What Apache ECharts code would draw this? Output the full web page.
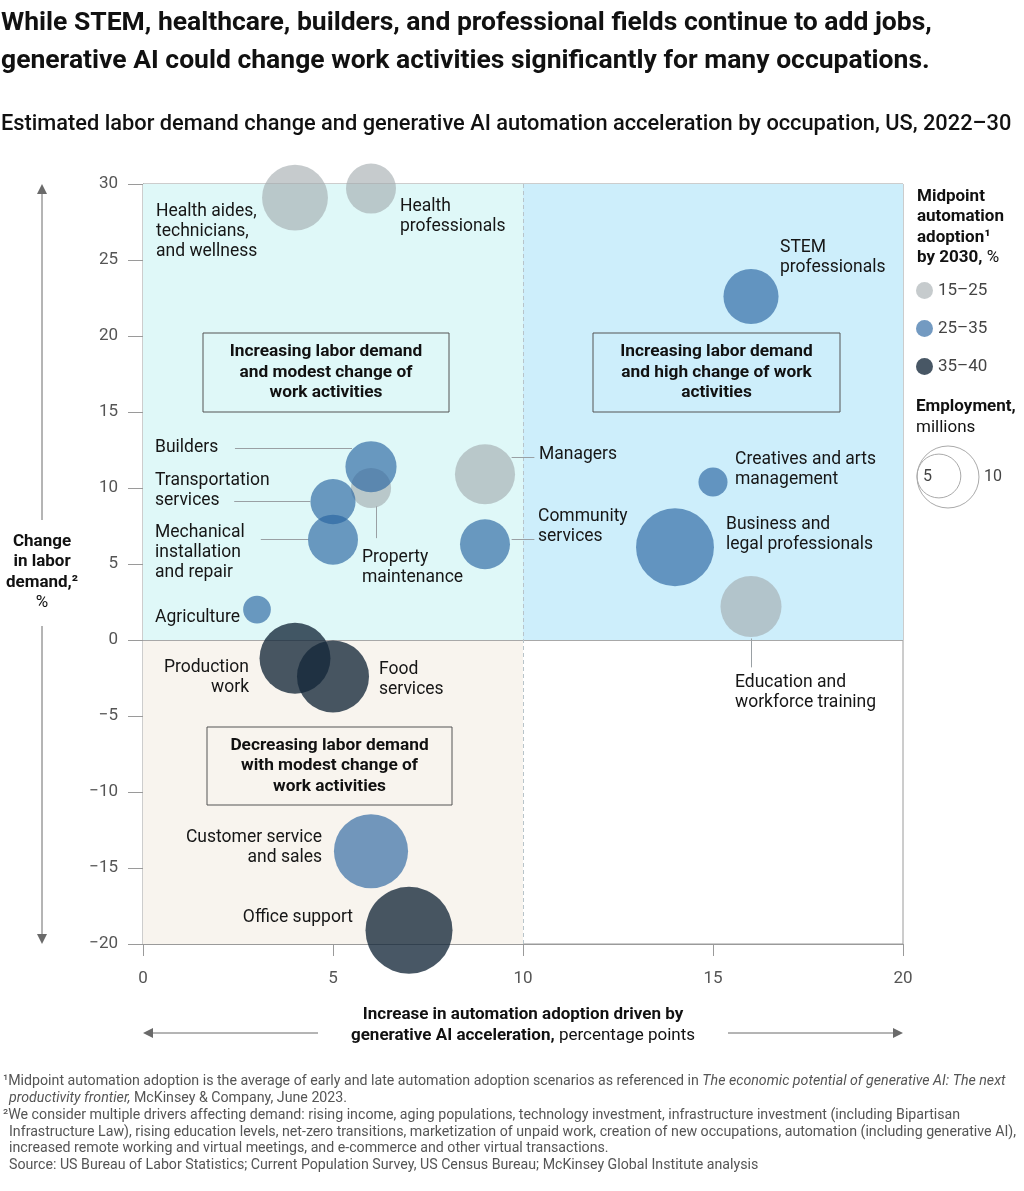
<!DOCTYPE html>
<html>
<head>
<meta charset="utf-8">
<script src="https://cdn.jsdelivr.net/npm/echarts@6/dist/echarts.min.js"></script>
<style>
  html, body { margin: 0; padding: 0; background: #fff; }
  #chart { width: 1024px; height: 1191px; }
</style>
</head>
<body>
<div id="chart"></div>
<script>
// --- data ---
const occupations = [
  'Health aides,\ntechnicians,\nand wellness', 'Health\nprofessionals', 'STEM\nprofessionals',
  'Builders', 'Property\nmaintenance', 'Transportation\nservices', 'Mechanical\ninstallation\nand repair',
  'Managers', 'Community\nservices', 'Creatives and arts\nmanagement', 'Business and\nlegal professionals',
  'Agriculture', 'Education and\nworkforce training', 'Production\nwork', 'Food\nservices',
  'Customer service\nand sales', 'Office support'
];
const automationIncrease = [4.0, 6.0, 16.0, 6.0, 6.0, 5.0, 5.0, 9.0, 9.0, 15.0, 14.0, 3.0, 16.0, 4.0, 5.0, 6.0, 7.0];
const demandChange = [29.1, 29.7, 22.6, 11.4, 10.0, 9.1, 6.6, 10.9, 6.3, 10.4, 6.1, 2.0, 2.2, -1.2, -2.4, -13.9, -19.1];
const employment = [11.3, 6.5, 7.9, 6.8, 4.2, 5.3, 6.5, 9.4, 6.5, 2.2, 15.8, 2.0, 9.7, 13.1, 13.5, 14.3, 19.7];
const adoptionGroup = ['15–25', '15–25', '25–35', '25–35', '15–25', '25–35', '25–35', '15–25', '25–35',
  '25–35', '25–35', '25–35', '15–25', '35–40', '35–40', '25–35', '35–40'];
const adoptionBands = ['15–25', '25–35', '35–40'];
const employmentKey = [5, 10];

// --- layout / styling (not data) ---
const FONT = 'Roboto, "Liberation Sans", sans-serif';
const bandColors = {
  '15–25': 'rgba(160,168,172,0.6)',
  '25–35': 'rgba(40,100,160,0.65)',
  '35–40': 'rgba(20,40,58,0.78)'
};
// label offset from bubble centre in px: [dx, dy, align]
const labelPlacement = [
  [-139, 4, 'left'], [29, 8, 'left'], [29, -59, 'left'],
  [-216, -29, 'left'], [-9, 60, 'left'], [-178, -31, 'left'], [-178, -17, 'left'],
  [54, -30, 'left'], [53, -38, 'left'], [22, -32, 'left'], [51, -33, 'left'],
  [-17, -2, 'right'], [-16, 66, 'left'], [-46, -1, 'right'], [46, -17, 'left'],
  [-49, -24, 'right'], [-56, -23, 'right']
];
// leader lines, in data coordinates
const leaderLines = [
  [[2.42, 12.6], [5.5, 12.6]],
  [[2.4, 9.1], [4.4, 9.1]],
  [[3.1, 6.6], [4.35, 6.6]],
  [[6.13, 8.8], [6.13, 6.7]],
  [[9.7, 12.0], [10.3, 12.0]],
  [[9.7, 6.6], [10.3, 6.6]],
  [[16.0, 0.1], [16.0, -1.8]]
];

const bubbleSize = emp => 19.6 * Math.sqrt(emp);

const bubbleSeries = adoptionBands.map(band => ({
  name: band,
  type: 'scatter',
  z: 5,
  symbolSize: v => bubbleSize(v[2]),
  itemStyle: { color: bandColors[band], opacity: 1 },
  emphasis: { disabled: true },
  label: { fontFamily: FONT, fontSize: 17.5, lineHeight: 20, color: '#161616' },
  data: occupations
    .map((name, i) => ({ name, i }))
    .filter(o => adoptionGroup[o.i] === band)
    .map(({ name, i }) => {
      const d = bubbleSize(employment[i]);
      const [dx, dy, align] = labelPlacement[i];
      return {
        name,
        value: [automationIncrease[i], demandChange[i], employment[i]],
        label: { show: true, formatter: name, position: [d / 2 + dx, d / 2 + dy], align, verticalAlign: 'top' }
      };
    })
}));

const backdropSeries = {
  type: 'scatter',
  data: [],
  z: 1,
  silent: true,
  markArea: {
    silent: true,
    data: [
      [{ coord: [0, 0], itemStyle: { color: '#dff8f8' } }, { coord: [10, 30] }],
      [{ coord: [10, 0], itemStyle: { color: '#cdeefb' } }, { coord: [20, 30] }],
      [{ coord: [0, -20], itemStyle: { color: '#f8f4ee' } }, { coord: [10, 0] }]
    ]
  },
  markLine: {
    silent: true,
    symbol: 'none',
    label: { show: false },
    data: [
      { yAxis: 0, lineStyle: { color: '#a8a8a8', type: 'solid', width: 1 } },
      { xAxis: 10, lineStyle: { color: '#b8c4ca', type: [4, 3], width: 1 } },
      ...leaderLines.map(([a, b]) => [
        { coord: a, lineStyle: { color: '#9aa0a4', type: 'solid', width: 1 } },
        { coord: b }
      ])
    ]
  }
};

// small helpers for the hand-drawn annotations
function txt(x, y, text, opts = {}) {
  return {
    type: 'text', z: 100, silent: true,
    style: Object.assign({
      x, y, text, fill: '#1a1a1a', fontFamily: FONT, fontSize: 17,
      align: 'left', verticalAlign: 'middle'
    }, opts)
  };
}
function arrowHead(x, y, dir) {
  const s = 5, l = 10;
  const pts = {
    up: [[x, y], [x - s, y + l], [x + s, y + l]],
    down: [[x, y], [x - s, y - l], [x + s, y - l]],
    left: [[x, y], [x + l, y - s], [x + l, y + s]],
    right: [[x, y], [x - l, y - s], [x - l, y + s]]
  }[dir];
  return { type: 'polygon', z: 100, silent: true, shape: { points: pts }, style: { fill: '#6a6a6a' } };
}
function seg(x1, y1, x2, y2) {
  return { type: 'line', z: 100, silent: true, shape: { x1, y1, x2, y2 }, style: { stroke: '#6a6a6a', lineWidth: 1 } };
}
function box(x, y, w, h, text) {
  return [
    { type: 'rect', z: 100, silent: true, shape: { x, y, width: w, height: h },
      style: { fill: 'none', stroke: '#555', lineWidth: 1 } },
    txt(x + w / 2, y + h / 2, text, { align: 'center', fontWeight: 'bold', fontSize: 17.3, lineHeight: 20.5, fill: '#111' })
  ];
}

const boldRich = {
  b: { fontFamily: FONT, fontSize: 17, fontWeight: 'bold', fill: '#111', lineHeight: 20.5 },
  r: { fontFamily: FONT, fontSize: 17, fontWeight: 'normal', fill: '#111', lineHeight: 20.5 }
};
const noteRich = {
  n: { fontFamily: FONT, fontSize: 14.2, fill: '#555' },
  i: { fontFamily: FONT, fontSize: 14.2, fill: '#555', fontStyle: 'italic' }
};

const graphics = [
  // title + subtitle
  txt(1, 23, 'While STEM, healthcare, builders, and professional fields continue to add jobs,',
    { fontSize: 26.5, fontWeight: 'bold', fill: '#111' }),
  txt(1, 61, 'generative AI could change work activities significantly for many occupations.',
    { fontSize: 26.5, fontWeight: 'bold', fill: '#111' }),
  txt(1, 125, 'Estimated labor demand change and generative AI automation acceleration by occupation, US, 2022–30',
    { fontSize: 21.8, fontWeight: 500, fill: '#111' }),

  // quadrant boxes
  ...box(203, 333, 246, 79, 'Increasing labor demand\nand modest change of\nwork activities'),
  ...box(593, 333, 247, 79, 'Increasing labor demand\nand high change of work\nactivities'),
  ...box(207, 727, 245, 78, 'Decreasing labor demand\nwith modest change of\nwork activities'),

  // y axis name + arrow
  txt(42, 572, '{b|Change}\n{b|in labor}\n{b|demand,²}\n{r|%}', { align: 'center', rich: boldRich }),
  seg(42, 192, 42, 520), arrowHead(42, 184, 'up'),
  seg(42, 626, 42, 936), arrowHead(42, 944, 'down'),

  // x axis name + arrow
  txt(523, 1025, '{b|Increase in automation adoption driven by}\n{b|generative AI acceleration,}{r| percentage points}',
    { align: 'center', rich: boldRich }),
  seg(151, 1033, 318, 1033), arrowHead(143, 1033, 'left'),
  seg(728, 1033, 895, 1033), arrowHead(903, 1033, 'right'),

  // legend titles
  txt(917, 227, '{b|Midpoint}\n{b|automation}\n{b|adoption¹}\n{b|by 2030,}{r| %}', { rich: boldRich }),
  txt(916, 417, '{b|Employment,}\n{r|millions}', { rich: boldRich }),

  // employment size key
  { type: 'circle', z: 100, silent: true,
    shape: { cx: 917 + bubbleSize(employmentKey[1]) / 2, cy: 477, r: bubbleSize(employmentKey[1]) / 2 },
    style: { fill: 'none', stroke: '#aaa', lineWidth: 1 } },
  { type: 'circle', z: 100, silent: true,
    shape: { cx: 917 + bubbleSize(employmentKey[0]) / 2, cy: 476, r: bubbleSize(employmentKey[0]) / 2 },
    style: { fill: 'none', stroke: '#aaa', lineWidth: 1 } },
  txt(923, 477, String(employmentKey[0]), { fill: '#444', fontSize: 16 }),
  txt(984, 477, String(employmentKey[1]), { fill: '#444', fontSize: 16 }),

  // footnotes
  txt(3, 1081, '{n|¹Midpoint automation adoption is the average of early and late automation adoption scenarios as referenced in }{i|The economic potential of generative AI: The next}', { rich: noteRich }),
  txt(9, 1098, '{i|productivity frontier,}{n| McKinsey & Company, June 2023.}', { rich: noteRich }),
  txt(3, 1115, '{n|²We consider multiple drivers affecting demand: rising income, aging populations, technology investment, infrastructure investment (including Bipartisan}', { rich: noteRich }),
  txt(9, 1132, '{n|Infrastructure Law), rising education levels, net-zero transitions, marketization of unpaid work, creation of new occupations, automation (including generative AI),}', { rich: noteRich }),
  txt(9, 1148, '{n|increased remote working and virtual meetings, and e-commerce and other virtual transactions.}', { rich: noteRich }),
  txt(9, 1165, '{n|Source: US Bureau of Labor Statistics; Current Population Survey, US Census Bureau; McKinsey Global Institute analysis}', { rich: noteRich })
];

const chart = echarts.init(document.getElementById('chart'), null, { renderer: 'canvas' });
chart.setOption({
  animation: false,
  backgroundColor: '#fff',
  textStyle: { fontFamily: FONT },
  grid: { left: 143, top: 184, right: 121, bottom: 247, show: true, borderColor: '#9a9a9a', borderWidth: 1 },
  xAxis: {
    type: 'value', min: 0, max: 20, interval: 5,
    splitLine: { show: false },
    axisLine: { show: true, onZero: false, lineStyle: { color: '#9a9a9a' } },
    axisTick: { show: true, length: 12, lineStyle: { color: '#9a9a9a' } },
    axisLabel: { fontSize: 17, color: '#555', margin: 26 }
  },
  yAxis: {
    type: 'value', min: -20, max: 30, interval: 5,
    splitLine: { show: false },
    axisLine: { show: true, onZero: false, lineStyle: { color: '#9a9a9a' } },
    axisTick: { show: true, length: 15, lineStyle: { color: '#9a9a9a' } },
    axisLabel: { fontSize: 17, color: '#555', margin: 25, formatter: v => String(v).replace('-', '−') }
  },
  legend: {
    data: adoptionBands,
    orient: 'vertical',
    left: 916, top: 282,
    padding: 0,
    itemWidth: 17, itemHeight: 17, itemGap: 21,
    icon: 'circle',
    selectedMode: false,
    textStyle: { fontSize: 17, color: '#444', fontFamily: FONT }
  },
  graphic: graphics,
  series: [backdropSeries, ...bubbleSeries]
});
</script>
</body>
</html>
